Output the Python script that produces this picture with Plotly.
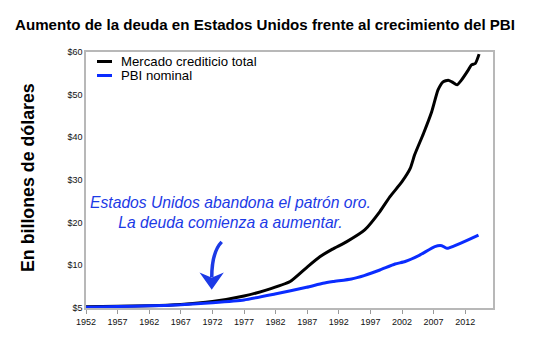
import plotly.graph_objects as go

# ---- data (y in trillions-like units of the axis) ----
debt_x = [1952, 1957, 1962, 1967, 1972, 1977, 1980.5, 1984.3, 1987, 1989, 1991, 1993.2,
          1996.1, 1998.5, 2000.1, 2002, 2003.3, 2004, 2005.4, 2006.7, 2007.7, 2008.5,
          2009.3, 2009.9, 2010.7, 2011.4, 2012.5, 2013, 2013.6, 2014.2]
debt_y = [0.3, 0.4, 0.5, 0.8, 1.5, 2.8, 4.2, 6.2, 9.6, 12.0, 13.8, 15.5,
          18.3, 22.6, 26.1, 29.6, 32.7, 35.9, 40.9, 46.0, 51.1, 53.0,
          53.4, 53.0, 52.3, 53.4, 55.8, 57.0, 57.3, 59.5]

gdp_x = [1952, 1957, 1962, 1967, 1972, 1977, 1981.9, 1986.9, 1989.5, 1991.1, 1994, 1996,
         1998.5, 2000.9, 2002.5, 2004.8, 2007.2, 2008.3, 2009.1, 2014.1]
gdp_y = [0.2, 0.35, 0.5, 0.75, 1.25, 1.9, 3.3, 4.85, 5.8, 6.2, 6.8, 7.6,
         8.9, 10.3, 10.9, 12.4, 14.4, 14.6, 14.0, 17.1]

series_names = ["Mercado crediticio total", "PBI nominal"]
x_ticks = list(range(1952, 2013, 5))
y_ticks = [0, 10, 20, 30, 40, 50, 60]
y_tick_text = ["$5", "$10", "$20", "$30", "$40", "$50", "$60"]

title_text = "Aumento de la deuda en Estados Unidos frente al crecimiento del PBI"
ytitle_text = "En billones de dólares"
note_text = "Estados Unidos abandona el patrón oro.<br>La deuda comienza a aumentar."

BLACK = "#000000"
BLUE = "#0a2cff"
NOTE_BLUE = "#1c3ae6"

fig = go.Figure()
fig.add_trace(go.Scatter(x=debt_x, y=debt_y, mode="lines", name=series_names[0],
                         line=dict(color=BLACK, width=3, shape="spline", smoothing=0.5),
                         showlegend=False))
fig.add_trace(go.Scatter(x=gdp_x, y=gdp_y, mode="lines", name=series_names[1],
                         line=dict(color=BLUE, width=3, shape="spline", smoothing=0.5),
                         showlegend=False))

W, H = 550, 346
L, R, T, B = 86, 57, 52, 38
pw = W - L - R
ph = H - T - B
xmin, xmax = 1952, 1952 + pw / 6.32

fig.update_layout(
    width=W, height=H,
    margin=dict(l=L, r=R, t=T, b=B),
    paper_bgcolor="white", plot_bgcolor="white",
    title=dict(text=title_text, x=265 / W, xanchor="center", y=1 - 25 / H, yanchor="middle",
               yref="container",
               font=dict(family="Liberation Sans", size=15.1, color="#000000", weight="bold")),
    xaxis=dict(range=[xmin, xmax], tickvals=x_ticks, ticktext=[str(v) for v in x_ticks],
               showgrid=False, zeroline=False, showline=True, mirror=True,
               linecolor="#b8b8b8", linewidth=1.5, ticks="outside", ticklen=4,
               tickcolor="#9a9a9a", tickwidth=1,
               tickfont=dict(family="Liberation Sans", size=9, color="#111111")),
    yaxis=dict(range=[0, 60], tickvals=y_ticks, ticktext=y_tick_text,
               showgrid=False, zeroline=False, showline=True, mirror=True,
               linecolor="#b8b8b8", linewidth=1.5, ticks="",
               tickfont=dict(family="Liberation Sans", size=9, color="#111111")),
)

# y-axis title
fig.add_annotation(text=ytitle_text, xref="paper", yref="paper",
                   x=(28 - L) / pw, y=(H - B - 178) / ph, textangle=-90,
                   showarrow=False, xanchor="center", yanchor="middle",
                   font=dict(family="Liberation Sans", size=17.8, color="#000000", weight="bold"))

# manual legend
leg = [(series_names[0], BLACK, 61.5), (series_names[1], BLUE, 75.5)]
for name, col, py in leg:
    yp = (H - B - py) / ph
    fig.add_shape(type="line", xref="paper", yref="paper",
                  x0=(97 - L) / pw, x1=(112 - L) / pw, y0=yp, y1=yp,
                  line=dict(color=col, width=3))
    fig.add_annotation(text=name, xref="paper", yref="paper", x=(119 - L) / pw, y=yp,
                       showarrow=False, xanchor="left", yanchor="middle",
                       font=dict(family="Liberation Sans", size=13.2, color="#000000"))

# note text
fig.add_annotation(text=note_text, xref="x", yref="y", x=1974.9, y=22.3,
                   showarrow=False, xanchor="center", yanchor="middle", align="center",
                   font=dict(family="Liberation Sans", size=15.7, color=NOTE_BLUE, style="italic"))

# curved arrow body
fig.add_shape(type="path", xref="x", yref="y",
              path="M 1973.47 15.5 Q 1971.9 13.1 1971.9 7.2",
              line=dict(color=NOTE_BLUE, width=3.5))
# arrowhead
fig.add_shape(type="path", xref="x", yref="y",
              path="M 1971.89 4.6 L 1970.3 7.9 L 1971.89 6.9 L 1973.47 7.9 Z",
              fillcolor=NOTE_BLUE, line=dict(color=NOTE_BLUE, width=1.5))

fig.write_html("out.html")
